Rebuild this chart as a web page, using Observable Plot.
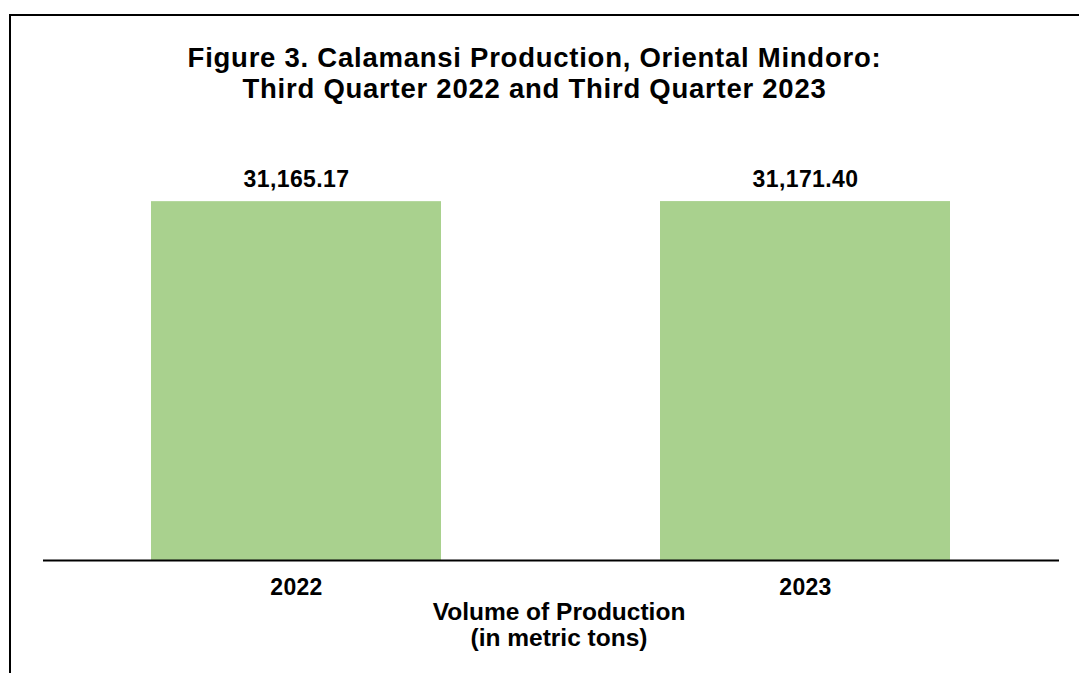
<!DOCTYPE html>
<html>
<head>
<meta charset="utf-8">
<script src="https://cdn.jsdelivr.net/npm/d3@7"></script>
<script src="https://cdn.jsdelivr.net/npm/@observablehq/plot@0.6"></script>
<style>
  html, body { margin: 0; padding: 0; background: #fff; overflow: hidden; }
  #wrap { position: relative; width: 1079px; height: 673px; overflow: hidden; font-family: Arial, "Liberation Sans", sans-serif; }
  #border { position: absolute; left: 9px; top: 14px; width: 1200px; height: 800px; border: 2px solid #000; box-sizing: border-box; }
  #title { position: absolute; left: 0; top: 42px; width: 1069px; text-align: center; font-weight: bold; font-size: 27.5px; line-height: 31px; letter-spacing: 0.75px; color: #000; }
  #xlabel { position: absolute; left: 0; top: 599px; width: 1118px; text-align: center; font-weight: bold; font-size: 24.5px; line-height: 26px; color: #000; }
  #chart { position: absolute; left: 0; top: 0; }
  #chart g[aria-label="text"] text { letter-spacing: 0.4px; }
  #chart g[aria-label="x-axis tick label"] text { letter-spacing: 0.3px; }
</style>
</head>
<body>
<div id="wrap">
  <div id="border"></div>
  <div id="chart"></div>
  <div id="title">Figure 3. Calamansi Production, Oriental Mindoro:<br>Third Quarter 2022 and Third Quarter 2023</div>
  <div id="xlabel">Volume of Production<br>(in metric tons)</div>
</div>
<script>
const years = ["2022", "2023"];
const production = [31165.17, 31171.40];

const data = years.map((y, i) => ({year: y, value: production[i]}));
const fmt = d3.format(",.2f");

const chart = Plot.plot({
  width: 1079,
  height: 673,
  marginLeft: 43,
  marginRight: 20,
  marginTop: 157,
  marginBottom: 113,
  style: {fontFamily: 'Arial, "Liberation Sans", sans-serif', fontWeight: "bold", fontSize: "23px", color: "#000", background: "transparent"},
  x: {type: "band", domain: years, paddingInner: 0.43, paddingOuter: 0.213, label: null},
  y: {domain: [0, 35000], axis: null},
  marks: [
    Plot.barY(data, {x: "year", y: "value", fill: "#A9D18E"}),
    Plot.ruleY([0], {stroke: "#000", strokeWidth: 2}),
    Plot.axisX({tickSize: 0, tickPadding: 18, fontSize: 23, fontWeight: "bold", fill: "#000", label: null}),
    Plot.text(data, {x: "year", y: "value", text: d => fmt(d.value), lineAnchor: "bottom", dy: -15, fontSize: 23, fontWeight: "bold", fill: "#000"})
  ]
});
document.getElementById("chart").appendChild(chart);
</script>
</body>
</html>
